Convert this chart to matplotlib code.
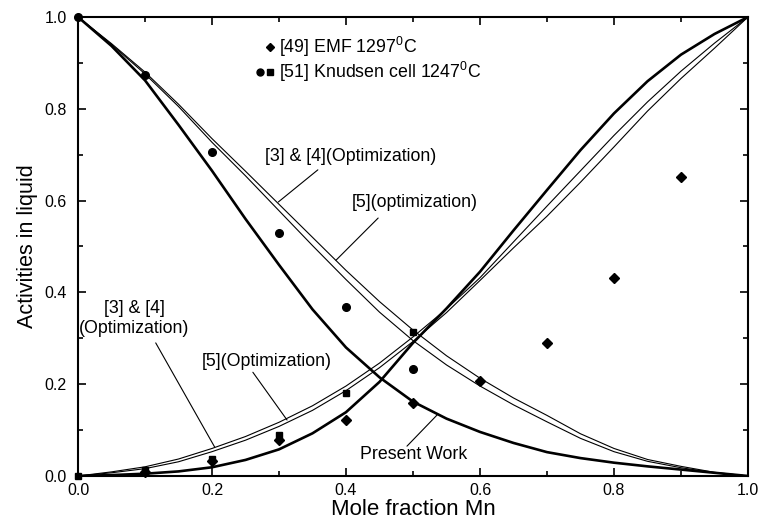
import matplotlib
matplotlib.use("Agg")
import matplotlib.pyplot as plt
from matplotlib.ticker import MultipleLocator

plt.rcParams["font.family"] = ["Liberation Sans", "DejaVu Sans"]
plt.rcParams["mathtext.fontset"] = "custom"
plt.rcParams["mathtext.rm"] = "Liberation Sans"
plt.rcParams["mathtext.it"] = "Liberation Sans:italic"

# ---- calculated activity curves (mole fraction Mn grid) ----
x_grid = [0.0, 0.05, 0.1, 0.15, 0.2, 0.25, 0.3, 0.35, 0.4, 0.45, 0.5,
          0.55, 0.6, 0.65, 0.7, 0.75, 0.8, 0.85, 0.9, 0.95, 1.0]

# Present work
present_fe = [1.0, 0.937, 0.862, 0.765, 0.665, 0.56, 0.46, 0.363, 0.28, 0.215, 0.162,
              0.125, 0.096, 0.072, 0.052, 0.039, 0.029, 0.021, 0.014, 0.007, 0.0]
present_mn = [0.0, 0.002, 0.005, 0.01, 0.019, 0.035, 0.058, 0.093, 0.139, 0.205, 0.29,
              0.365, 0.445, 0.535, 0.623, 0.71, 0.79, 0.86, 0.918, 0.963, 1.0]

# [3] & [4] optimization
opt34_fe = [1.0, 0.942, 0.88, 0.81, 0.735, 0.664, 0.592, 0.52, 0.448, 0.38, 0.318,
            0.262, 0.213, 0.17, 0.132, 0.092, 0.06, 0.036, 0.021, 0.008, 0.0]
opt34_mn = [0.0, 0.009, 0.02, 0.037, 0.06, 0.086, 0.117, 0.153, 0.196, 0.246, 0.303,
            0.364, 0.432, 0.51, 0.588, 0.665, 0.742, 0.815, 0.882, 0.943, 1.0]

# [5] optimization
opt5_fe = [1.0, 0.94, 0.876, 0.805, 0.727, 0.654, 0.578, 0.502, 0.428, 0.357, 0.295,
           0.242, 0.196, 0.155, 0.118, 0.082, 0.053, 0.032, 0.018, 0.007, 0.0]
opt5_mn = [0.0, 0.007, 0.016, 0.031, 0.053, 0.078, 0.108, 0.143, 0.186, 0.236, 0.293,
           0.356, 0.426, 0.497, 0.566, 0.64, 0.717, 0.795, 0.866, 0.932, 1.0]

# ---- experimental data ----
emf_x = [0.1, 0.2, 0.3, 0.4, 0.5, 0.6, 0.7, 0.8, 0.9]
emf_a = [0.008, 0.033, 0.078, 0.122, 0.159, 0.207, 0.290, 0.431, 0.651]

knud_fe_x = [0.0, 0.1, 0.2, 0.3, 0.4, 0.5]
knud_fe_a = [1.0, 0.874, 0.706, 0.529, 0.368, 0.234]

knud_mn_x = [0.0, 0.1, 0.2, 0.3, 0.4, 0.5]
knud_mn_a = [0.0, 0.012, 0.038, 0.089, 0.181, 0.314]

FS = 12.8

fig = plt.figure(figsize=(7.58, 5.25), dpi=100)
ax = fig.add_axes([78 / 758, 49 / 525, 670 / 758, 459 / 525])

thin = dict(color="black", lw=0.8)
thick = dict(color="black", lw=1.9)
ax.plot(x_grid, opt34_fe, **thin)
ax.plot(x_grid, opt34_mn, **thin)
ax.plot(x_grid, opt5_fe, **thin)
ax.plot(x_grid, opt5_mn, **thin)
ax.plot(x_grid, present_fe, **thick)
ax.plot(x_grid, present_mn, **thick)

ax.plot(emf_x, emf_a, ls="none", marker="D", ms=4.6, color="black", clip_on=False)
ax.plot(knud_fe_x, knud_fe_a, ls="none", marker="o", ms=5.5, color="black", clip_on=False)
ax.plot(knud_mn_x, knud_mn_a, ls="none", marker="s", ms=4.6, color="black", clip_on=False)

# legend keys
ax.plot([0.2866], [0.9346], transform=ax.transAxes, marker="D", ms=3.8, color="black", ls="none")
ax.plot([0.2716], [0.880], transform=ax.transAxes, marker="o", ms=5.0, color="black", ls="none")
ax.plot([0.2866], [0.880], transform=ax.transAxes, marker="s", ms=4.0, color="black", ls="none")
ax.text(0.300, 0.9346, "[49] EMF 1297$^0$C", transform=ax.transAxes,
        ha="left", va="center", fontsize=FS)
ax.text(0.300, 0.880, "[51] Knudsen cell 1247$^0$C", transform=ax.transAxes,
        ha="left", va="center", fontsize=FS)

# labels with leader lines
lead = dict(arrowstyle="-", color="black", lw=0.8, shrinkA=0, shrinkB=0)
ax.text(0.279, 0.695, "[3] & [4](Optimization)", ha="left", va="center", fontsize=FS)
ax.annotate("", xy=(0.299, 0.597), xytext=(0.358, 0.667), arrowprops=lead)

ax.text(0.596, 0.595, "[5](optimization)", ha="right", va="center", fontsize=FS)
ax.annotate("", xy=(0.385, 0.470), xytext=(0.448, 0.562), arrowprops=lead)

ax.text(0.084, 0.366, "[3] & [4]", ha="center", va="center", fontsize=FS)
ax.text(0.084, 0.322, "(Optimization)", ha="center", va="center", fontsize=FS)
ax.annotate("", xy=(0.204, 0.063), xytext=(0.116, 0.290), arrowprops=lead)

ax.text(0.379, 0.250, "[5](Optimization)", ha="right", va="center", fontsize=FS)
ax.annotate("", xy=(0.312, 0.122), xytext=(0.261, 0.226), arrowprops=lead)

ax.text(0.421, 0.046, "Present Work", ha="left", va="center", fontsize=FS)
ax.annotate("", xy=(0.536, 0.133), xytext=(0.491, 0.065), arrowprops=lead)

ax.set_xlim(0, 1)
ax.set_ylim(0, 1)
ax.xaxis.set_major_locator(MultipleLocator(0.2))
ax.xaxis.set_minor_locator(MultipleLocator(0.1))
ax.yaxis.set_major_locator(MultipleLocator(0.2))
ax.yaxis.set_minor_locator(MultipleLocator(0.1))
ax.tick_params(which="both", direction="in", top=True, right=True, width=1.2)
ax.tick_params(which="major", length=6, labelsize=11.5)
ax.tick_params(which="minor", length=3.5)
ax.tick_params(axis="y", pad=8)
ax.tick_params(axis="x", pad=5)
for s in ax.spines.values():
    s.set_linewidth(1.5)
ax.set_xticklabels([f"{v:.1f}" for v in ax.get_xticks()])
ax.set_yticklabels([f"{v:.1f}" for v in ax.get_yticks()])

ax.set_xlabel("Mole fraction Mn", fontsize=16, labelpad=1)
ax.set_ylabel("Activities in liquid", fontsize=15.5, labelpad=5)

fig.savefig("out.png", dpi=100)
